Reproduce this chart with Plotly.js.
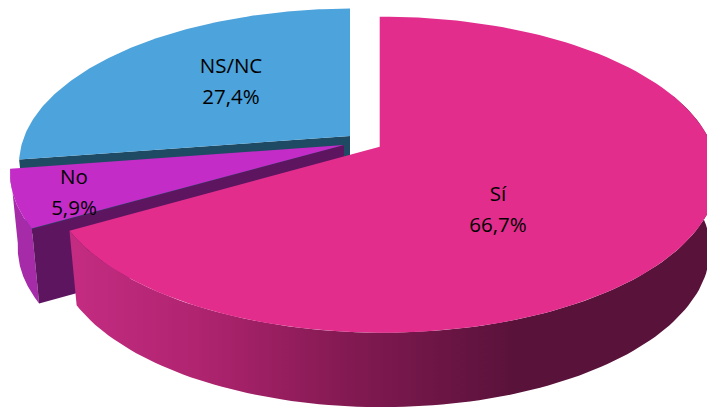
<!DOCTYPE html>
<html><head><meta charset="utf-8">
<script src="https://cdn.plot.ly/plotly-3.0.1.min.js"></script>
<style>html,body{margin:0;padding:0;background:#fff;overflow:hidden}</style>
</head><body><div id="chart" style="width:707px;height:409px"></div>
<script>
// Data
const categories = ["Sí", "No", "NS/NC"];
const shares = [66.7, 5.9, 27.4];
const topColors = ["#E22D8D", "#C42CC8", "#4DA3DB"];
const faceColors = ["#8A1B58", "#5E1560", "#1F4A64"];
const wallColors = ["#C0287F", "#A52BA8", "#1F4A64"];

// Geometry of the tilted pie, in picture units
const apexes = [[379.7, 146.7], [344, 145], [350, 136]];
const radiiX = [335, 337, 334];
const radiiY = [158, 158, 155.5];
const labelAnchors = [[498, 195.5], [74, 179], [231, 68]];
const OFF_X = 3, OFF_Y = 28, DEPTH = 74.5, SHRINK = 0.977, LINE_GAP = 31;

// cumulative start / end angles (degrees clockwise from top)
const total = shares.reduce((a, b) => a + b, 0);
let acc = 0;
const spans = shares.map(s => { const a = acc; acc += s / total * 360; return [a, acc]; });

function rim(i, deg) {
  const RX = radiiX[i], RY = radiiY[i];
  const t = deg * Math.PI / 180, dx = Math.sin(t) * RX, dy = -Math.cos(t) * RY;
  // ray from the apex to an ellipse whose centre sits below/right of the apex
  const A = dx * dx / (RX * RX) + dy * dy / (RY * RY);
  const B = -2 * (dx * OFF_X / (RX * RX) + dy * OFF_Y / (RY * RY));
  const C = OFF_X * OFF_X / (RX * RX) + OFF_Y * OFF_Y / (RY * RY) - 1;
  const k = (-B + Math.sqrt(B * B - 4 * A * C)) / (2 * A);
  return [apexes[i][0] + k * dx, apexes[i][1] + k * dy];
}
function low(i, p) { return [apexes[i][0] + (p[0] - apexes[i][0]) * SHRINK, p[1] + DEPTH]; }
function arc(i, a, b) { const r = []; const n = 120; for (let j = 0; j <= n; j++) r.push(rim(i, a + (b - a) * j / n)); return r; }

function poly(pts, extra) {
  return Object.assign({
    type: "scatter", mode: "lines", x: pts.map(p => p[0]), y: pts.map(p => p[1]),
    fill: "toself", line: { width: 0 }, hoverinfo: "skip", showlegend: false
  }, extra);
}
function topFace(i) { return poly([apexes[i]].concat(arc(i, spans[i][0], spans[i][1])).concat([apexes[i]]), { fillcolor: topColors[i] }); }
function innerFace(i, deg) {
  const p = rim(i, deg), ap = apexes[i];
  return poly([ap, p, low(i, p), [ap[0], ap[1] + DEPTH], ap], { fillcolor: faceColors[i] });
}
function outerWall(i, a, b, extra) {
  const u = arc(i, a, b), d = u.map(p => low(i, p)).reverse();
  return poly(u.concat(d).concat([u[0]]), extra);
}

const traces = [
  innerFace(2, spans[2][0]),
  topFace(2),
  outerWall(1, spans[1][0], spans[1][1], { fillcolor: wallColors[1] }),
  innerFace(1, spans[1][0]),
  topFace(1),
  outerWall(0, 70, spans[0][1], {
    fillcolor: "#8A1B58",
    fillgradient: {
      type: "horizontal", start: 69, stop: 707,
      colorscale: [[0, "#C42C82"], [0.2, "#B02470"], [0.42, "#861A54"], [0.7, "#59123A"], [1, "#59123A"]]
    }
  }),
  topFace(0),
  {
    type: "scatter", mode: "text", hoverinfo: "skip", showlegend: false,
    x: labelAnchors.map(p => p[0]), y: labelAnchors.map(p => p[1]),
    text: categories, textposition: "middle center",
    textfont: { family: "'Open Sans', sans-serif", size: 20.5, color: "#000" }
  },
  {
    type: "scatter", mode: "text", hoverinfo: "skip", showlegend: false,
    x: labelAnchors.map(p => p[0]), y: labelAnchors.map(p => p[1] + LINE_GAP),
    text: shares.map(v => v.toFixed(1).replace(".", ",") + "%"), textposition: "middle center",
    textfont: { family: "'Open Sans', sans-serif", size: 20.5, color: "#000" }
  }
];

Plotly.newPlot("chart", traces, {
  width: 707, height: 409, margin: { l: 0, r: 0, t: 0, b: 0 },
  paper_bgcolor: "#fff", plot_bgcolor: "#fff", showlegend: false,
  xaxis: { range: [0, 707], visible: false, fixedrange: true },
  yaxis: { range: [409, 0], visible: false, fixedrange: true }
}, { displayModeBar: false, staticPlot: true });
</script></body></html>
